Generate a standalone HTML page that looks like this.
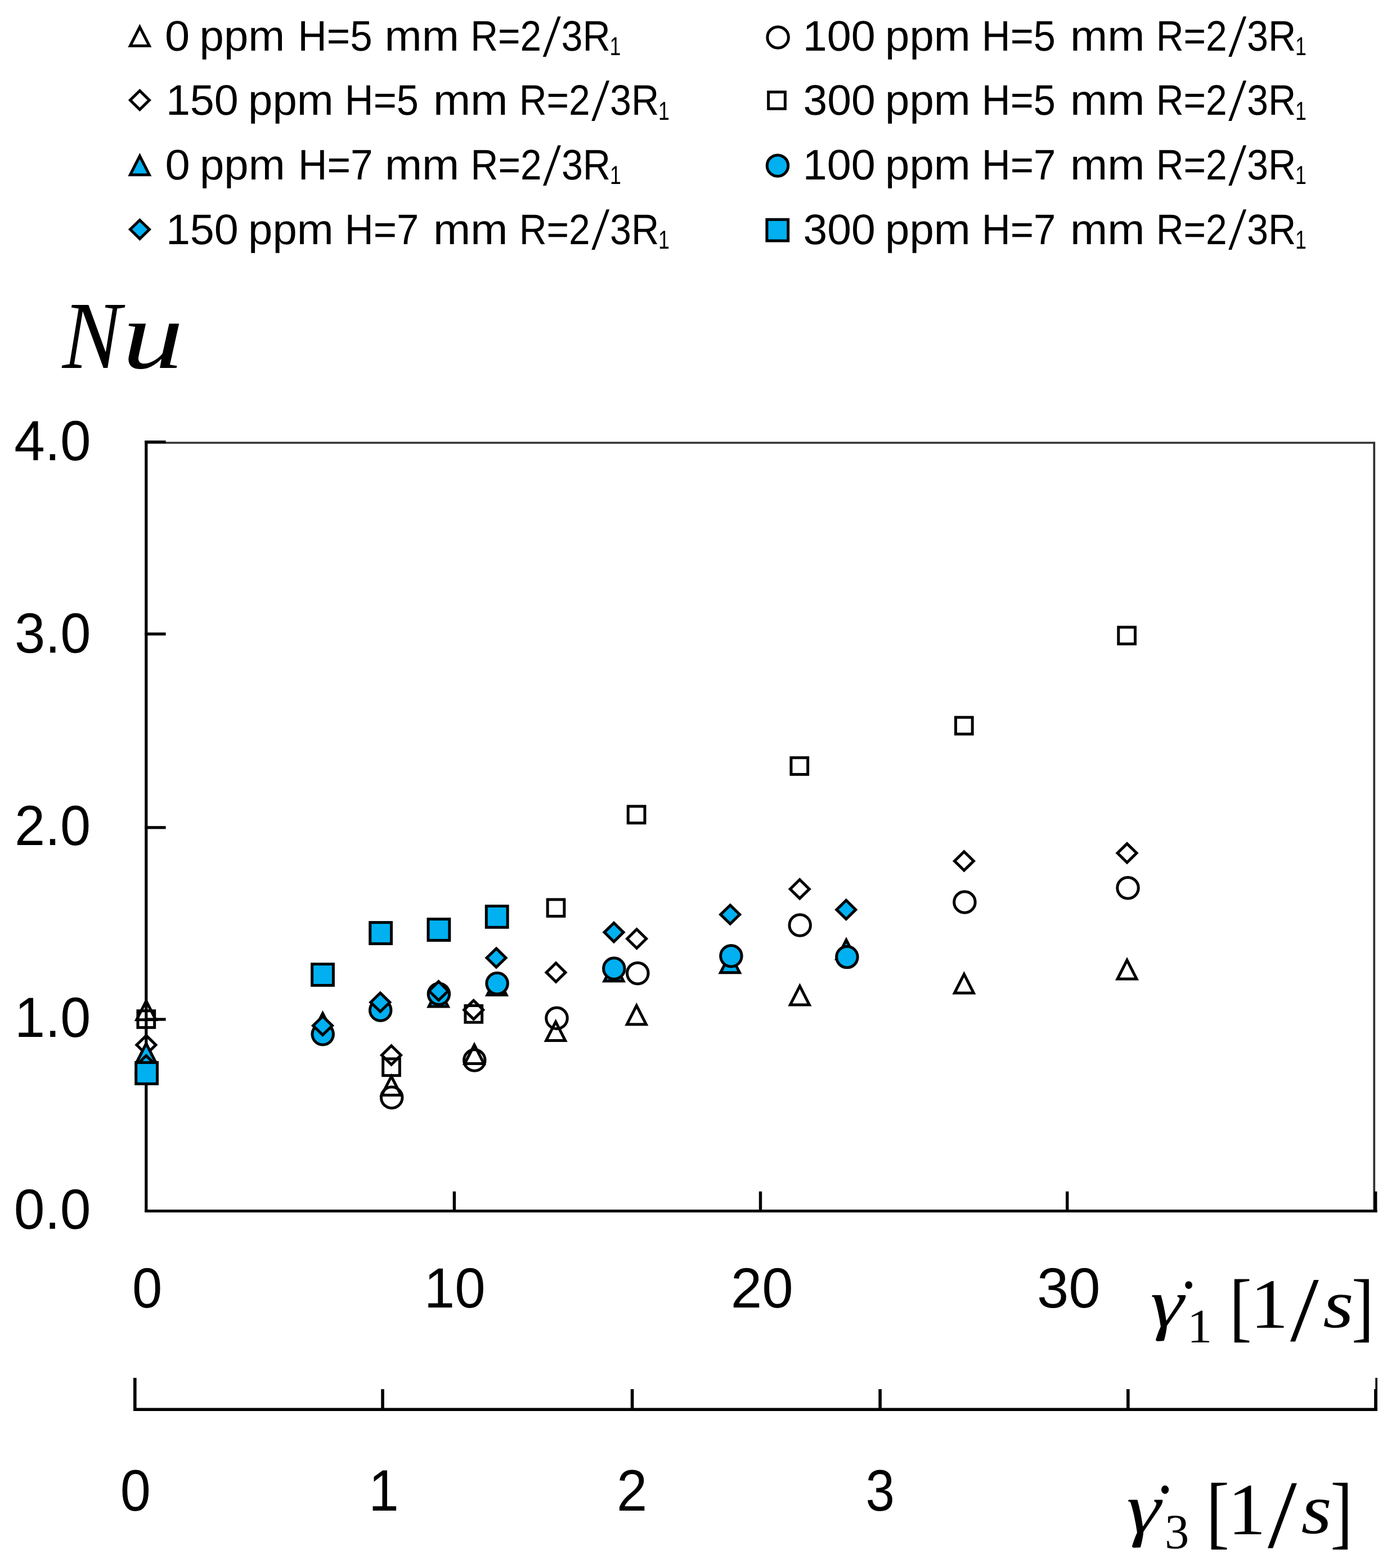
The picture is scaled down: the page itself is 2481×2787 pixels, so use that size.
<!DOCTYPE html><html><head><meta charset="utf-8"><title>Nu vs shear rate</title>
<style>html,body{margin:0;padding:0;background:#fff;}svg{display:block;}text{font-kerning:none;fill:#000;}</style></head><body>
<svg width="2481" height="2787" viewBox="0 0 2481 2787" text-rendering="geometricPrecision">
<rect x="0" y="0" width="2481" height="2787" fill="#fff"/>
<g id="legend">
<path d="M248.40,48.10 L265.40,81.50 L231.40,81.50 Z" fill="none" stroke="#000" stroke-width="5.0" stroke-linejoin="miter"/>
<text transform="translate(0,89.70)" font-size="76.0" style='font-family:"Liberation Sans", sans-serif'><tspan x="293.09" y="0.0" textLength="44.21" lengthAdjust="spacingAndGlyphs">0</tspan> <tspan x="354.58" y="0.0" textLength="151.56" lengthAdjust="spacingAndGlyphs">ppm</tspan> <tspan x="529.58" y="0.0" textLength="132.20" lengthAdjust="spacingAndGlyphs">H=5</tspan> <tspan x="683.53" y="0.0" textLength="132.31" lengthAdjust="spacingAndGlyphs">mm</tspan> <tspan x="836.15" y="0.0" textLength="126.06" lengthAdjust="spacingAndGlyphs">R=2</tspan><tspan x="964.70" y="9.95" font-size="107.2" style='font-family:"Liberation Serif", serif' textLength="31.90" lengthAdjust="spacingAndGlyphs">/</tspan><tspan x="997.50" y="0.0" textLength="87.27" lengthAdjust="spacingAndGlyphs">3R</tspan><tspan x="1083.58" y="8.2" font-size="46.1" textLength="19.86" lengthAdjust="spacingAndGlyphs">1</tspan></text>
<path d="M248.40,161.30 L265.40,178.00 L248.40,194.70 L231.40,178.00 Z" fill="none" stroke="#000" stroke-width="5.0" stroke-linejoin="miter"/>
<text transform="translate(0,204.30)" font-size="76.0" style='font-family:"Liberation Sans", sans-serif'><tspan x="294.92" y="0.0" textLength="128.90" lengthAdjust="spacingAndGlyphs">150</tspan> <tspan x="441.08" y="0.0" textLength="151.56" lengthAdjust="spacingAndGlyphs">ppm</tspan> <tspan x="612.83" y="0.0" textLength="131.03" lengthAdjust="spacingAndGlyphs">H=5</tspan> <tspan x="770.03" y="0.0" textLength="132.31" lengthAdjust="spacingAndGlyphs">mm</tspan> <tspan x="922.65" y="0.0" textLength="126.06" lengthAdjust="spacingAndGlyphs">R=2</tspan><tspan x="1051.20" y="9.95" font-size="107.2" style='font-family:"Liberation Serif", serif' textLength="31.90" lengthAdjust="spacingAndGlyphs">/</tspan><tspan x="1084.00" y="0.0" textLength="87.27" lengthAdjust="spacingAndGlyphs">3R</tspan><tspan x="1170.08" y="8.2" font-size="46.1" textLength="19.86" lengthAdjust="spacingAndGlyphs">1</tspan></text>
<path d="M248.40,277.30 L265.40,310.70 L231.40,310.70 Z" fill="#00b0f0" stroke="#000" stroke-width="5.0" stroke-linejoin="miter"/>
<text transform="translate(0,318.90)" font-size="76.0" style='font-family:"Liberation Sans", sans-serif'><tspan x="293.49" y="0.0" textLength="44.21" lengthAdjust="spacingAndGlyphs">0</tspan> <tspan x="354.98" y="0.0" textLength="151.56" lengthAdjust="spacingAndGlyphs">ppm</tspan> <tspan x="529.95" y="0.0" textLength="132.84" lengthAdjust="spacingAndGlyphs">H=7</tspan> <tspan x="683.93" y="0.0" textLength="132.31" lengthAdjust="spacingAndGlyphs">mm</tspan> <tspan x="836.55" y="0.0" textLength="126.06" lengthAdjust="spacingAndGlyphs">R=2</tspan><tspan x="965.10" y="9.95" font-size="107.2" style='font-family:"Liberation Serif", serif' textLength="31.90" lengthAdjust="spacingAndGlyphs">/</tspan><tspan x="997.90" y="0.0" textLength="87.27" lengthAdjust="spacingAndGlyphs">3R</tspan><tspan x="1083.98" y="8.2" font-size="46.1" textLength="19.86" lengthAdjust="spacingAndGlyphs">1</tspan></text>
<path d="M248.40,391.20 L265.40,407.80 L248.40,424.40 L231.40,407.80 Z" fill="#00b0f0" stroke="#000" stroke-width="5.0" stroke-linejoin="miter"/>
<text transform="translate(0,433.50)" font-size="76.0" style='font-family:"Liberation Sans", sans-serif'><tspan x="294.92" y="0.0" textLength="128.90" lengthAdjust="spacingAndGlyphs">150</tspan> <tspan x="441.08" y="0.0" textLength="151.56" lengthAdjust="spacingAndGlyphs">ppm</tspan> <tspan x="612.80" y="0.0" textLength="131.65" lengthAdjust="spacingAndGlyphs">H=7</tspan> <tspan x="770.03" y="0.0" textLength="132.31" lengthAdjust="spacingAndGlyphs">mm</tspan> <tspan x="922.65" y="0.0" textLength="126.06" lengthAdjust="spacingAndGlyphs">R=2</tspan><tspan x="1051.20" y="9.95" font-size="107.2" style='font-family:"Liberation Serif", serif' textLength="31.90" lengthAdjust="spacingAndGlyphs">/</tspan><tspan x="1084.00" y="0.0" textLength="87.27" lengthAdjust="spacingAndGlyphs">3R</tspan><tspan x="1170.08" y="8.2" font-size="46.1" textLength="19.86" lengthAdjust="spacingAndGlyphs">1</tspan></text>
<circle cx="1382.60" cy="66.40" r="18.75" fill="none" stroke="#000" stroke-width="5.0"/>
<text transform="translate(0,89.70)" font-size="76.0" style='font-family:"Liberation Sans", sans-serif'><tspan x="1426.82" y="0.0" textLength="128.90" lengthAdjust="spacingAndGlyphs">100</tspan> <tspan x="1573.08" y="0.0" textLength="151.56" lengthAdjust="spacingAndGlyphs">ppm</tspan> <tspan x="1744.83" y="0.0" textLength="131.03" lengthAdjust="spacingAndGlyphs">H=5</tspan> <tspan x="1902.03" y="0.0" textLength="132.31" lengthAdjust="spacingAndGlyphs">mm</tspan> <tspan x="2054.65" y="0.0" textLength="126.06" lengthAdjust="spacingAndGlyphs">R=2</tspan><tspan x="2183.20" y="9.95" font-size="107.2" style='font-family:"Liberation Serif", serif' textLength="31.90" lengthAdjust="spacingAndGlyphs">/</tspan><tspan x="2216.00" y="0.0" textLength="87.27" lengthAdjust="spacingAndGlyphs">3R</tspan><tspan x="2302.08" y="8.2" font-size="46.1" textLength="19.86" lengthAdjust="spacingAndGlyphs">1</tspan></text>
<rect x="1365.65" y="163.55" width="29.7" height="29.7" fill="none" stroke="#000" stroke-width="5.0"/>
<text transform="translate(0,204.30)" font-size="76.0" style='font-family:"Liberation Sans", sans-serif'><tspan x="1427.47" y="0.0" textLength="128.23" lengthAdjust="spacingAndGlyphs">300</tspan> <tspan x="1573.08" y="0.0" textLength="151.56" lengthAdjust="spacingAndGlyphs">ppm</tspan> <tspan x="1744.83" y="0.0" textLength="131.03" lengthAdjust="spacingAndGlyphs">H=5</tspan> <tspan x="1902.03" y="0.0" textLength="132.31" lengthAdjust="spacingAndGlyphs">mm</tspan> <tspan x="2054.65" y="0.0" textLength="126.06" lengthAdjust="spacingAndGlyphs">R=2</tspan><tspan x="2183.20" y="9.95" font-size="107.2" style='font-family:"Liberation Serif", serif' textLength="31.90" lengthAdjust="spacingAndGlyphs">/</tspan><tspan x="2216.00" y="0.0" textLength="87.27" lengthAdjust="spacingAndGlyphs">3R</tspan><tspan x="2302.08" y="8.2" font-size="46.1" textLength="19.86" lengthAdjust="spacingAndGlyphs">1</tspan></text>
<circle cx="1382.00" cy="294.40" r="18.75" fill="#00b0f0" stroke="#000" stroke-width="5.0"/>
<text transform="translate(0,318.90)" font-size="76.0" style='font-family:"Liberation Sans", sans-serif'><tspan x="1426.82" y="0.0" textLength="128.90" lengthAdjust="spacingAndGlyphs">100</tspan> <tspan x="1573.08" y="0.0" textLength="151.56" lengthAdjust="spacingAndGlyphs">ppm</tspan> <tspan x="1744.80" y="0.0" textLength="131.65" lengthAdjust="spacingAndGlyphs">H=7</tspan> <tspan x="1902.03" y="0.0" textLength="132.31" lengthAdjust="spacingAndGlyphs">mm</tspan> <tspan x="2054.65" y="0.0" textLength="126.06" lengthAdjust="spacingAndGlyphs">R=2</tspan><tspan x="2183.20" y="9.95" font-size="107.2" style='font-family:"Liberation Serif", serif' textLength="31.90" lengthAdjust="spacingAndGlyphs">/</tspan><tspan x="2216.00" y="0.0" textLength="87.27" lengthAdjust="spacingAndGlyphs">3R</tspan><tspan x="2302.08" y="8.2" font-size="46.1" textLength="19.86" lengthAdjust="spacingAndGlyphs">1</tspan></text>
<rect x="1362.90" y="390.20" width="37.8" height="37.8" fill="#00b0f0" stroke="#000" stroke-width="5.0"/>
<text transform="translate(0,433.50)" font-size="76.0" style='font-family:"Liberation Sans", sans-serif'><tspan x="1427.47" y="0.0" textLength="128.23" lengthAdjust="spacingAndGlyphs">300</tspan> <tspan x="1573.08" y="0.0" textLength="151.56" lengthAdjust="spacingAndGlyphs">ppm</tspan> <tspan x="1744.80" y="0.0" textLength="131.65" lengthAdjust="spacingAndGlyphs">H=7</tspan> <tspan x="1902.03" y="0.0" textLength="132.31" lengthAdjust="spacingAndGlyphs">mm</tspan> <tspan x="2054.65" y="0.0" textLength="126.06" lengthAdjust="spacingAndGlyphs">R=2</tspan><tspan x="2183.20" y="9.95" font-size="107.2" style='font-family:"Liberation Serif", serif' textLength="31.90" lengthAdjust="spacingAndGlyphs">/</tspan><tspan x="2216.00" y="0.0" textLength="87.27" lengthAdjust="spacingAndGlyphs">3R</tspan><tspan x="2302.08" y="8.2" font-size="46.1" textLength="19.86" lengthAdjust="spacingAndGlyphs">1</tspan></text>
</g>
<text><tspan x="110.85" y="654.30" font-size="171.05" textLength="104.49" lengthAdjust="spacingAndGlyphs" style='font-family:"Liberation Serif", serif;font-style:italic'>N</tspan><tspan x="217.49" y="653.99" font-size="171.66" textLength="108.56" lengthAdjust="spacingAndGlyphs" style='font-family:"Liberation Serif", serif;font-style:italic'>u</tspan></text>
<g id="axes"><line x1="259.8" y1="787.0" x2="2442.2" y2="787.0" stroke="#333" stroke-width="3.6"/><line x1="2442.2" y1="785.2" x2="2442.2" y2="2152.5" stroke="#333" stroke-width="3.8"/><line x1="259.8" y1="783.0" x2="259.8" y2="2155.0" stroke="#000" stroke-width="5.2"/><line x1="257.2" y1="2152.5" x2="2447.5" y2="2152.5" stroke="#000" stroke-width="5.2"/><line x1="257.2" y1="785.5" x2="294.6" y2="785.5" stroke="#000" stroke-width="5.2"/><line x1="257.2" y1="1126.8" x2="294.6" y2="1126.8" stroke="#000" stroke-width="5.2"/><line x1="257.2" y1="1470.9" x2="294.6" y2="1470.9" stroke="#000" stroke-width="5.2"/><line x1="257.2" y1="1811.8" x2="294.6" y2="1811.8" stroke="#000" stroke-width="5.2"/><line x1="807.4" y1="2117.7" x2="807.4" y2="2155.0" stroke="#000" stroke-width="5.4"/><line x1="1351.5" y1="2117.7" x2="1351.5" y2="2155.0" stroke="#000" stroke-width="5.4"/><line x1="1896.7" y1="2117.7" x2="1896.7" y2="2155.0" stroke="#000" stroke-width="5.4"/><line x1="2444.7" y1="2117.7" x2="2444.7" y2="2155.0" stroke="#000" stroke-width="5.4"/><line x1="237.0" y1="2505.2" x2="2447.9" y2="2505.2" stroke="#000" stroke-width="5.6"/><line x1="239.8" y1="2449.0" x2="239.8" y2="2508.0" stroke="#000" stroke-width="5.6"/><line x1="680.0" y1="2469.1" x2="680.0" y2="2505" stroke="#000" stroke-width="5.6"/><line x1="1123.6" y1="2469.1" x2="1123.6" y2="2505" stroke="#000" stroke-width="5.6"/><line x1="1564.1" y1="2469.1" x2="1564.1" y2="2505" stroke="#000" stroke-width="5.6"/><line x1="2004.8" y1="2469.1" x2="2004.8" y2="2505" stroke="#000" stroke-width="5.6"/><line x1="2445.0" y1="2469.1" x2="2445.0" y2="2508.0" stroke="#000" stroke-width="5.8"/><line x1="2446.1" y1="2449.0" x2="2446.1" y2="2470" stroke="#000" stroke-width="3.6"/></g>
<text transform="translate(25.25,818.40) scale(0.9762,1)" font-size="100.50" style='font-family:"Liberation Sans", sans-serif;font-style:normal'>4.0</text>
<text transform="translate(25.98,1160.00) scale(0.9708,1)" font-size="100.50" style='font-family:"Liberation Sans", sans-serif;font-style:normal'>3.0</text>
<text transform="translate(25.91,1501.60) scale(0.9684,1)" font-size="100.50" style='font-family:"Liberation Sans", sans-serif;font-style:normal'>2.0</text>
<text transform="translate(26.10,1842.60) scale(0.9670,1)" font-size="100.50" style='font-family:"Liberation Sans", sans-serif;font-style:normal'>1.0</text>
<text transform="translate(24.75,2184.00) scale(0.9798,1)" font-size="100.50" style='font-family:"Liberation Sans", sans-serif;font-style:normal'>0.0</text>
<text transform="translate(235.06,2323.60) scale(0.9533,1)" font-size="100.50" style='font-family:"Liberation Sans", sans-serif;font-style:normal'>0</text>
<text transform="translate(753.74,2323.60) scale(0.9740,1)" font-size="100.50" style='font-family:"Liberation Sans", sans-serif;font-style:normal'>10</text>
<text transform="translate(1298.79,2323.60) scale(0.9922,1)" font-size="100.50" style='font-family:"Liberation Sans", sans-serif;font-style:normal'>20</text>
<text transform="translate(1842.95,2323.60) scale(1.0064,1)" font-size="100.50" style='font-family:"Liberation Sans", sans-serif;font-style:normal'>30</text>
<text transform="translate(213.80,2685.30) scale(0.9353,1)" font-size="104.00" style='font-family:"Liberation Sans", sans-serif;font-style:normal'>0</text>
<text transform="translate(655.37,2685.30) scale(0.9255,1)" font-size="104.00" style='font-family:"Liberation Sans", sans-serif;font-style:normal'>1</text>
<text transform="translate(1096.10,2685.30) scale(0.9371,1)" font-size="104.00" style='font-family:"Liberation Sans", sans-serif;font-style:normal'>2</text>
<text transform="translate(1538.48,2685.30) scale(0.8883,1)" font-size="104.00" style='font-family:"Liberation Sans", sans-serif;font-style:normal'>3</text>
<text><tspan x="2044.58" y="2357.52" font-size="122.05" textLength="59.41" lengthAdjust="spacingAndGlyphs" style='font-family:"Liberation Serif", serif;font-style:italic'>γ</tspan><tspan x="2092.45" y="2364.16" font-size="131.19" textLength="39.91" lengthAdjust="spacingAndGlyphs" style='font-family:"Liberation Serif", serif;font-style:normal'>˙</tspan><tspan x="2109.91" y="2385.80" font-size="85.74" textLength="44.31" lengthAdjust="spacingAndGlyphs" style='font-family:"Liberation Serif", serif;font-style:normal'>1</tspan> <tspan x="2185.07" y="2368.28" font-size="136.17" textLength="39.63" lengthAdjust="spacingAndGlyphs" style='font-family:"Liberation Serif", serif;font-style:normal'>[</tspan><tspan x="2222.37" y="2360.40" font-size="125.88" textLength="67.32" lengthAdjust="spacingAndGlyphs" style='font-family:"Liberation Serif", serif;font-style:normal'>1</tspan><tspan x="2293.10" y="2383.00" font-size="163.84" textLength="50.80" lengthAdjust="spacingAndGlyphs" style='font-family:"Liberation Serif", serif;font-style:normal'>/</tspan><tspan x="2351.39" y="2359.20" font-size="122.46" textLength="54.44" lengthAdjust="spacingAndGlyphs" style='font-family:"Liberation Serif", serif;font-style:italic'>s</tspan><tspan x="2401.90" y="2368.28" font-size="136.17" textLength="39.63" lengthAdjust="spacingAndGlyphs" style='font-family:"Liberation Serif", serif;font-style:normal'>]</tspan></text>
<text><tspan x="2002.22" y="2723.74" font-size="127.11" textLength="60.60" lengthAdjust="spacingAndGlyphs" style='font-family:"Liberation Serif", serif;font-style:italic'>γ</tspan><tspan x="2049.50" y="2733.73" font-size="141.57" textLength="41.80" lengthAdjust="spacingAndGlyphs" style='font-family:"Liberation Serif", serif;font-style:normal'>˙</tspan><tspan x="2070.05" y="2752.24" font-size="87.67" textLength="43.33" lengthAdjust="spacingAndGlyphs" style='font-family:"Liberation Serif", serif;font-style:normal'>3</tspan> <tspan x="2143.47" y="2735.00" font-size="143.54" textLength="41.43" lengthAdjust="spacingAndGlyphs" style='font-family:"Liberation Serif", serif;font-style:normal'>[</tspan><tspan x="2182.37" y="2726.50" font-size="131.03" textLength="67.32" lengthAdjust="spacingAndGlyphs" style='font-family:"Liberation Serif", serif;font-style:normal'>1</tspan><tspan x="2253.10" y="2750.22" font-size="172.51" textLength="51.90" lengthAdjust="spacingAndGlyphs" style='font-family:"Liberation Serif", serif;font-style:normal'>/</tspan><tspan x="2312.60" y="2725.26" font-size="127.04" textLength="54.33" lengthAdjust="spacingAndGlyphs" style='font-family:"Liberation Serif", serif;font-style:italic'>s</tspan><tspan x="2364.20" y="2735.00" font-size="143.54" textLength="39.63" lengthAdjust="spacingAndGlyphs" style='font-family:"Liberation Serif", serif;font-style:normal'>]</tspan></text>
<g id="markers">
<path d="M259.80,1779.20 L276.80,1812.60 L242.80,1812.60 Z" fill="none" stroke="#000" stroke-width="5.0" stroke-linejoin="miter"/>
<path d="M695.50,1913.20 L712.50,1946.60 L678.50,1946.60 Z" fill="none" stroke="#000" stroke-width="5.0" stroke-linejoin="miter"/>
<path d="M843.00,1857.20 L860.00,1890.60 L826.00,1890.60 Z" fill="none" stroke="#000" stroke-width="5.0" stroke-linejoin="miter"/>
<path d="M987.60,1816.20 L1004.60,1849.60 L970.60,1849.60 Z" fill="none" stroke="#000" stroke-width="5.0" stroke-linejoin="miter"/>
<path d="M1131.30,1787.30 L1148.30,1820.70 L1114.30,1820.70 Z" fill="none" stroke="#000" stroke-width="5.0" stroke-linejoin="miter"/>
<path d="M1421.40,1752.70 L1438.40,1786.10 L1404.40,1786.10 Z" fill="none" stroke="#000" stroke-width="5.0" stroke-linejoin="miter"/>
<path d="M1713.40,1731.60 L1730.40,1765.00 L1696.40,1765.00 Z" fill="none" stroke="#000" stroke-width="5.0" stroke-linejoin="miter"/>
<path d="M2003.00,1706.60 L2020.00,1740.00 L1986.00,1740.00 Z" fill="none" stroke="#000" stroke-width="5.0" stroke-linejoin="miter"/>
<circle cx="260.60" cy="1907.50" r="18.75" fill="none" stroke="#000" stroke-width="5.0"/>
<circle cx="696.20" cy="1950.80" r="18.75" fill="none" stroke="#000" stroke-width="5.0"/>
<circle cx="843.30" cy="1884.50" r="18.75" fill="none" stroke="#000" stroke-width="5.0"/>
<circle cx="989.50" cy="1809.70" r="18.75" fill="none" stroke="#000" stroke-width="5.0"/>
<circle cx="1133.30" cy="1729.90" r="18.75" fill="none" stroke="#000" stroke-width="5.0"/>
<circle cx="1421.70" cy="1644.50" r="18.75" fill="none" stroke="#000" stroke-width="5.0"/>
<circle cx="1714.40" cy="1603.50" r="18.75" fill="none" stroke="#000" stroke-width="5.0"/>
<circle cx="2004.50" cy="1578.30" r="18.75" fill="none" stroke="#000" stroke-width="5.0"/>
<path d="M259.90,1840.60 L276.90,1857.30 L259.90,1874.00 L242.90,1857.30 Z" fill="none" stroke="#000" stroke-width="5.0" stroke-linejoin="miter"/>
<path d="M695.50,1858.80 L712.50,1875.50 L695.50,1892.20 L678.50,1875.50 Z" fill="none" stroke="#000" stroke-width="5.0" stroke-linejoin="miter"/>
<path d="M841.70,1778.20 L858.70,1794.90 L841.70,1811.60 L824.70,1794.90 Z" fill="none" stroke="#000" stroke-width="5.0" stroke-linejoin="miter"/>
<path d="M988.00,1711.70 L1005.00,1728.40 L988.00,1745.10 L971.00,1728.40 Z" fill="none" stroke="#000" stroke-width="5.0" stroke-linejoin="miter"/>
<path d="M1131.60,1651.80 L1148.60,1668.50 L1131.60,1685.20 L1114.60,1668.50 Z" fill="none" stroke="#000" stroke-width="5.0" stroke-linejoin="miter"/>
<path d="M1421.30,1563.50 L1438.30,1580.20 L1421.30,1596.90 L1404.30,1580.20 Z" fill="none" stroke="#000" stroke-width="5.0" stroke-linejoin="miter"/>
<path d="M1713.40,1513.70 L1730.40,1530.40 L1713.40,1547.10 L1696.40,1530.40 Z" fill="none" stroke="#000" stroke-width="5.0" stroke-linejoin="miter"/>
<path d="M2003.00,1499.60 L2020.00,1516.30 L2003.00,1533.00 L1986.00,1516.30 Z" fill="none" stroke="#000" stroke-width="5.0" stroke-linejoin="miter"/>
<rect x="244.95" y="1796.65" width="29.7" height="29.7" fill="none" stroke="#000" stroke-width="5.0"/>
<rect x="680.65" y="1881.95" width="29.7" height="29.7" fill="none" stroke="#000" stroke-width="5.0"/>
<rect x="826.95" y="1787.45" width="29.7" height="29.7" fill="none" stroke="#000" stroke-width="5.0"/>
<rect x="973.15" y="1598.85" width="29.7" height="29.7" fill="none" stroke="#000" stroke-width="5.0"/>
<rect x="1116.25" y="1433.15" width="29.7" height="29.7" fill="none" stroke="#000" stroke-width="5.0"/>
<rect x="1405.95" y="1346.75" width="29.7" height="29.7" fill="none" stroke="#000" stroke-width="5.0"/>
<rect x="1698.45" y="1275.05" width="29.7" height="29.7" fill="none" stroke="#000" stroke-width="5.0"/>
<rect x="1987.75" y="1114.85" width="29.7" height="29.7" fill="none" stroke="#000" stroke-width="5.0"/>
<path d="M259.80,1854.90 L276.80,1888.30 L242.80,1888.30 Z" fill="#00b0f0" stroke="#000" stroke-width="5.0" stroke-linejoin="miter"/>
<path d="M573.50,1801.20 L590.50,1834.60 L556.50,1834.60 Z" fill="#00b0f0" stroke="#000" stroke-width="5.0" stroke-linejoin="miter"/>
<path d="M779.20,1755.60 L796.20,1789.00 L762.20,1789.00 Z" fill="#00b0f0" stroke="#000" stroke-width="5.0" stroke-linejoin="miter"/>
<path d="M883.00,1735.00 L900.00,1768.40 L866.00,1768.40 Z" fill="#00b0f0" stroke="#000" stroke-width="5.0" stroke-linejoin="miter"/>
<path d="M1091.00,1710.40 L1108.00,1743.80 L1074.00,1743.80 Z" fill="#00b0f0" stroke="#000" stroke-width="5.0" stroke-linejoin="miter"/>
<path d="M1297.50,1695.40 L1314.50,1728.80 L1280.50,1728.80 Z" fill="#00b0f0" stroke="#000" stroke-width="5.0" stroke-linejoin="miter"/>
<path d="M1504.00,1670.70 L1521.00,1704.10 L1487.00,1704.10 Z" fill="#00b0f0" stroke="#000" stroke-width="5.0" stroke-linejoin="miter"/>
<circle cx="260.60" cy="1907.50" r="18.75" fill="#00b0f0" stroke="#000" stroke-width="5.0"/>
<circle cx="573.70" cy="1838.30" r="18.75" fill="#00b0f0" stroke="#000" stroke-width="5.0"/>
<circle cx="676.20" cy="1795.50" r="18.75" fill="#00b0f0" stroke="#000" stroke-width="5.0"/>
<circle cx="779.90" cy="1766.80" r="18.75" fill="#00b0f0" stroke="#000" stroke-width="5.0"/>
<circle cx="883.60" cy="1748.00" r="18.75" fill="#00b0f0" stroke="#000" stroke-width="5.0"/>
<circle cx="1091.30" cy="1721.50" r="18.75" fill="#00b0f0" stroke="#000" stroke-width="5.0"/>
<circle cx="1299.40" cy="1699.20" r="18.75" fill="#00b0f0" stroke="#000" stroke-width="5.0"/>
<circle cx="1505.40" cy="1701.10" r="18.75" fill="#00b0f0" stroke="#000" stroke-width="5.0"/>
<path d="M259.80,1876.40 L276.80,1893.00 L259.80,1909.60 L242.80,1893.00 Z" fill="#00b0f0" stroke="#000" stroke-width="5.0" stroke-linejoin="miter"/>
<path d="M573.50,1806.40 L590.50,1823.00 L573.50,1839.60 L556.50,1823.00 Z" fill="#00b0f0" stroke="#000" stroke-width="5.0" stroke-linejoin="miter"/>
<path d="M675.80,1764.90 L692.80,1781.50 L675.80,1798.10 L658.80,1781.50 Z" fill="#00b0f0" stroke="#000" stroke-width="5.0" stroke-linejoin="miter"/>
<path d="M779.50,1744.60 L796.50,1761.20 L779.50,1777.80 L762.50,1761.20 Z" fill="#00b0f0" stroke="#000" stroke-width="5.0" stroke-linejoin="miter"/>
<path d="M882.00,1685.90 L899.00,1702.50 L882.00,1719.10 L865.00,1702.50 Z" fill="#00b0f0" stroke="#000" stroke-width="5.0" stroke-linejoin="miter"/>
<path d="M1091.00,1640.50 L1108.00,1657.10 L1091.00,1673.70 L1074.00,1657.10 Z" fill="#00b0f0" stroke="#000" stroke-width="5.0" stroke-linejoin="miter"/>
<path d="M1297.70,1608.90 L1314.70,1625.50 L1297.70,1642.10 L1280.70,1625.50 Z" fill="#00b0f0" stroke="#000" stroke-width="5.0" stroke-linejoin="miter"/>
<path d="M1503.80,1600.30 L1520.80,1616.90 L1503.80,1633.50 L1486.80,1616.90 Z" fill="#00b0f0" stroke="#000" stroke-width="5.0" stroke-linejoin="miter"/>
<rect x="241.70" y="1888.60" width="37.8" height="37.8" fill="#00b0f0" stroke="#000" stroke-width="5.0"/>
<rect x="554.60" y="1713.60" width="37.8" height="37.8" fill="#00b0f0" stroke="#000" stroke-width="5.0"/>
<rect x="657.70" y="1639.60" width="37.8" height="37.8" fill="#00b0f0" stroke="#000" stroke-width="5.0"/>
<rect x="761.00" y="1633.60" width="37.8" height="37.8" fill="#00b0f0" stroke="#000" stroke-width="5.0"/>
<rect x="864.30" y="1610.50" width="37.8" height="37.8" fill="#00b0f0" stroke="#000" stroke-width="5.0"/>
</g>
</svg></body></html>
